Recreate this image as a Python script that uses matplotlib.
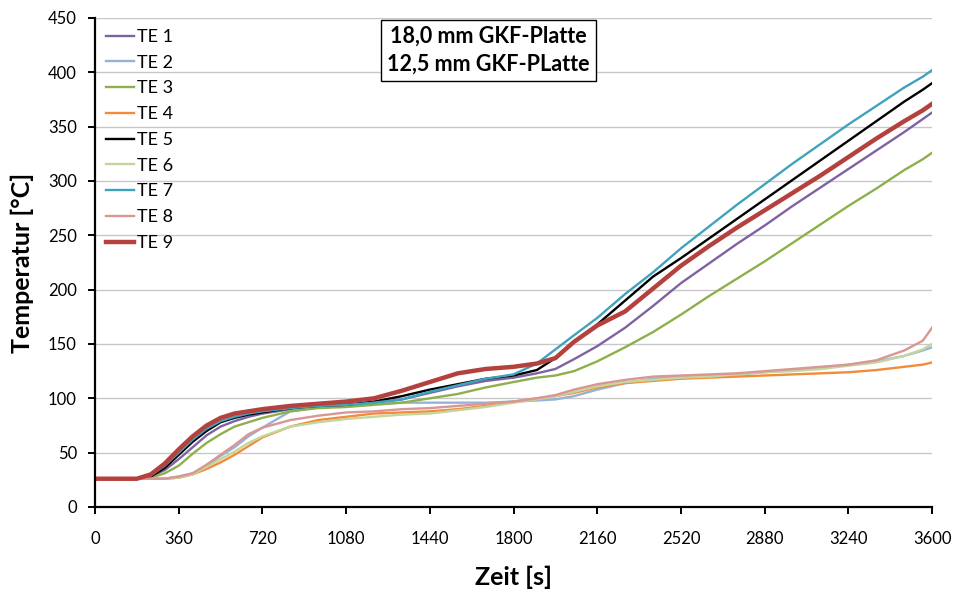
import matplotlib.pyplot as plt

plt.rcParams['font.family'] = ['Lato', 'DejaVu Sans']

# Zeitpunkte [s]
zeit = [0, 180, 240, 300, 360, 420, 480, 540, 600, 660, 720, 840, 960, 1080, 1200,
        1320, 1440, 1560, 1680, 1800, 1900, 1980, 2060, 2160, 2280, 2400, 2520,
        2640, 2760, 2880, 3000, 3120, 3240, 3360, 3480, 3560, 3600]

# Temperaturen [°C] der Thermoelemente
te1 = [26, 26, 28, 34, 44, 55, 66, 74, 79, 83, 86, 90, 92, 94, 96, 99, 105, 111, 116, 119,
       123, 127, 136, 148, 165, 185, 206, 224, 242, 259, 277, 294, 311, 328, 345, 357, 363]
te2 = [26, 26, 26, 26, 28, 31, 38, 47, 55, 65, 73, 88, 92, 94, 95, 96, 96, 96, 96, 97,
       98, 99, 102, 108, 114, 118, 120, 121, 122, 124, 126, 128, 131, 134, 139, 144, 147]
te3 = [26, 26, 27, 31, 38, 49, 59, 67, 74, 78, 82, 88, 91, 92, 94, 96, 100, 104, 110, 115,
       119, 121, 125, 134, 147, 161, 177, 194, 210, 226, 243, 260, 277, 293, 310, 320, 326]
te4 = [26, 26, 26, 26, 27, 30, 35, 41, 48, 56, 64, 74, 80, 83, 86, 87, 88, 90, 93, 97,
       100, 102, 105, 110, 114, 116, 118, 119, 120, 121, 122, 123, 124, 126, 129, 131, 133]
te5 = [26, 26, 28, 36, 48, 60, 70, 78, 82, 85, 87, 91, 93, 94, 97, 102, 108, 113, 118, 121,
       126, 137, 152, 168, 190, 212, 229, 247, 265, 283, 301, 319, 337, 355, 373, 384, 390]
te6 = [26, 26, 26, 26, 27, 30, 37, 44, 51, 59, 65, 74, 78, 81, 83, 85, 86, 89, 92, 96,
       99, 102, 106, 111, 115, 117, 119, 120, 122, 124, 125, 127, 130, 133, 139, 145, 150]
te7 = [26, 26, 29, 38, 50, 62, 72, 79, 83, 86, 88, 91, 93, 94, 96, 99, 106, 112, 118, 122,
       132, 145, 158, 174, 196, 216, 238, 258, 278, 297, 316, 334, 352, 369, 386, 396, 402]
te8 = [26, 26, 26, 26, 28, 31, 39, 48, 57, 67, 73, 80, 84, 87, 88, 90, 91, 93, 95, 97,
       100, 103, 108, 113, 117, 120, 121, 122, 123, 125, 127, 129, 131, 135, 144, 153, 165]
te9 = [26, 26, 30, 40, 53, 65, 75, 82, 86, 88, 90, 93, 95, 97, 100, 107, 115, 123, 127, 129,
       132, 137, 152, 167, 180, 201, 222, 240, 257, 273, 289, 305, 322, 339, 355, 365, 371]

namen = ['TE 1', 'TE 2', 'TE 3', 'TE 4', 'TE 5', 'TE 6', 'TE 7', 'TE 8', 'TE 9']
werte = [te1, te2, te3, te4, te5, te6, te7, te8, te9]
farben = ['#7E62A1', '#95B3D7', '#8DB04A', '#F48B3A', '#000000',
          '#C3D69B', '#3FA3BE', '#D99694', '#B5413E']
breiten = [1.7, 1.7, 1.7, 1.7, 1.7, 1.7, 1.7, 1.7, 3.2]

fig = plt.figure(figsize=(9.54, 5.92), dpi=100)
ax = fig.add_axes([0.0996, 0.1436, 0.8774, 0.826])

for name, y, c, lw in zip(namen, werte, farben, breiten):
    ax.plot(zeit, y, color=c, lw=lw, label=name)

ax.set_xlim(0, 3600)
ax.set_ylim(0, 450)
ax.set_xticks(range(0, 3601, 360))
ax.set_yticks(range(0, 451, 50))
ax.grid(axis='y', color='#C8C8C8', lw=1)
ax.set_axisbelow(True)

for s in ['top', 'right']:
    ax.spines[s].set_visible(False)
for s in ['left', 'bottom']:
    ax.spines[s].set_linewidth(1.6)
ax.tick_params(direction='out', length=5, width=1.4, labelsize=12)
ax.tick_params(axis='x', pad=12)
ax.tick_params(axis='y', pad=8)

ax.set_xlabel('Zeit [s]', fontsize=18, fontweight='bold', labelpad=14)
ax.set_ylabel('Temperatur [°C]', fontsize=18, fontweight='bold', labelpad=10)

ax.legend(loc='upper left', bbox_to_anchor=(0.0, 1.0), frameon=False, fontsize=13,
          handlelength=1.55, handletextpad=0.2, labelspacing=0.54, borderaxespad=0.2)

ax.text(1692, 420, '18,0 mm GKF-Platte\n12,5 mm GKF-PLatte', ha='center', va='center',
        fontsize=15.5, fontweight='bold', linespacing=1.4,
        bbox=dict(boxstyle='square,pad=0.3', facecolor='white', edgecolor='black', lw=1))

fig.savefig('out.png', dpi=100)
